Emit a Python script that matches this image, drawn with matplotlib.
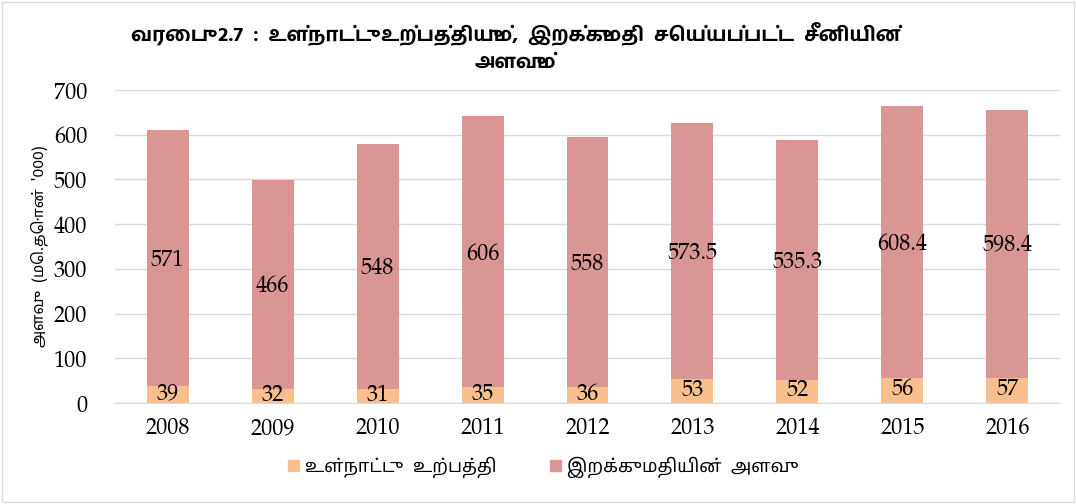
import matplotlib
matplotlib.use('Agg')
import matplotlib.pyplot as plt
import numpy as np
from matplotlib.patches import Rectangle

# data
years = ['2008', '2009', '2010', '2011', '2012', '2013', '2014', '2015', '2016']
local_prod = [39, 32, 31, 35, 36, 53, 52, 56, 57]
imports = [571, 466, 548, 606, 558, 573.5, 535.3, 608.4, 598.4]
import_labels = ['571', '466', '548', '606', '558', '573.5', '535.3', '608.4', '598.4']

title = 'வரைபு  2.7  :  உள்நாட்டு  உற்பத்தியும்,  இறக்குமதி  செய்யப்பட்ட  சீனியின்\nஅளவும்'
ylabel = 'அளவு  (மெ.தொன்  \'000)'
legend_names = ['உள்நாட்டு  உற்பத்தி', 'இறக்குமதியின்  அளவு']

c_local = '#F9BF8F'
c_imp = '#D99694'
serif = ['P052', 'TeX Gyre Pagella', 'URW Palladio L', 'Liberation Serif', 'DejaVu Serif']
tamil = ['Noto Sans Tamil', 'Noto Sans', 'DejaVu Sans']
tamil_bold = ['Hind Madurai', 'Noto Sans Tamil', 'DejaVu Sans']

fig = plt.figure(figsize=(10.76, 5.04), dpi=100)
ax = fig.add_axes([0.107, 0.2004, 0.878, 0.621])

x = np.arange(len(years))
ax.bar(x, local_prod, width=0.4, color=c_local, zorder=3)
ax.bar(x, imports, width=0.4, bottom=local_prod, color=c_imp, zorder=3)

for i in range(len(years)):
    ax.text(x[i], local_prod[i] / 2, str(local_prod[i]), ha='center', va='center',
            fontsize=16, family=serif, zorder=4)
    ax.text(x[i], local_prod[i] + imports[i] / 2 - 6, import_labels[i], ha='center', va='center',
            fontsize=16, family=serif, zorder=4)

ax.set_xlim(-0.5, 8.5)
ax.set_ylim(0, 700)
ax.set_yticks(range(0, 701, 100))
ax.set_xticks(x)
ax.set_xticklabels(years)
for lab in ax.get_xticklabels() + ax.get_yticklabels():
    lab.set_family(serif)
    lab.set_fontsize(16)
ax.tick_params(length=0, pad=10)
ax.tick_params(axis='y', pad=20)
ax.grid(axis='y', color='#D9D9D9', linewidth=1, zorder=0)
for s in ['top', 'right', 'left']:
    ax.spines[s].set_visible(False)
ax.spines['bottom'].set_color('#D9D9D9')

ax.set_ylabel(ylabel, family=tamil, fontsize=11, labelpad=4)

fig.text(0.479, 0.906, title, ha='center', va='center', fontsize=14.5,
         fontweight='bold', family=tamil_bold, linespacing=1.5)

handles = [Rectangle((0, 0), 1, 1, color=c_local), Rectangle((0, 0), 1, 1, color=c_imp)]
fig.legend(handles, legend_names, loc='center', bbox_to_anchor=(0.505, 0.073), ncol=2,
           frameon=False, prop={'family': tamil, 'size': 13}, handlelength=0.6,
           handleheight=0.6, handletextpad=0.3, columnspacing=3)

fig.patches.append(Rectangle((0.002, 0.003), 0.996, 0.994, transform=fig.transFigure,
                             fill=False, edgecolor='#D9D9D9', linewidth=1))

fig.savefig('out.png', dpi=100)
